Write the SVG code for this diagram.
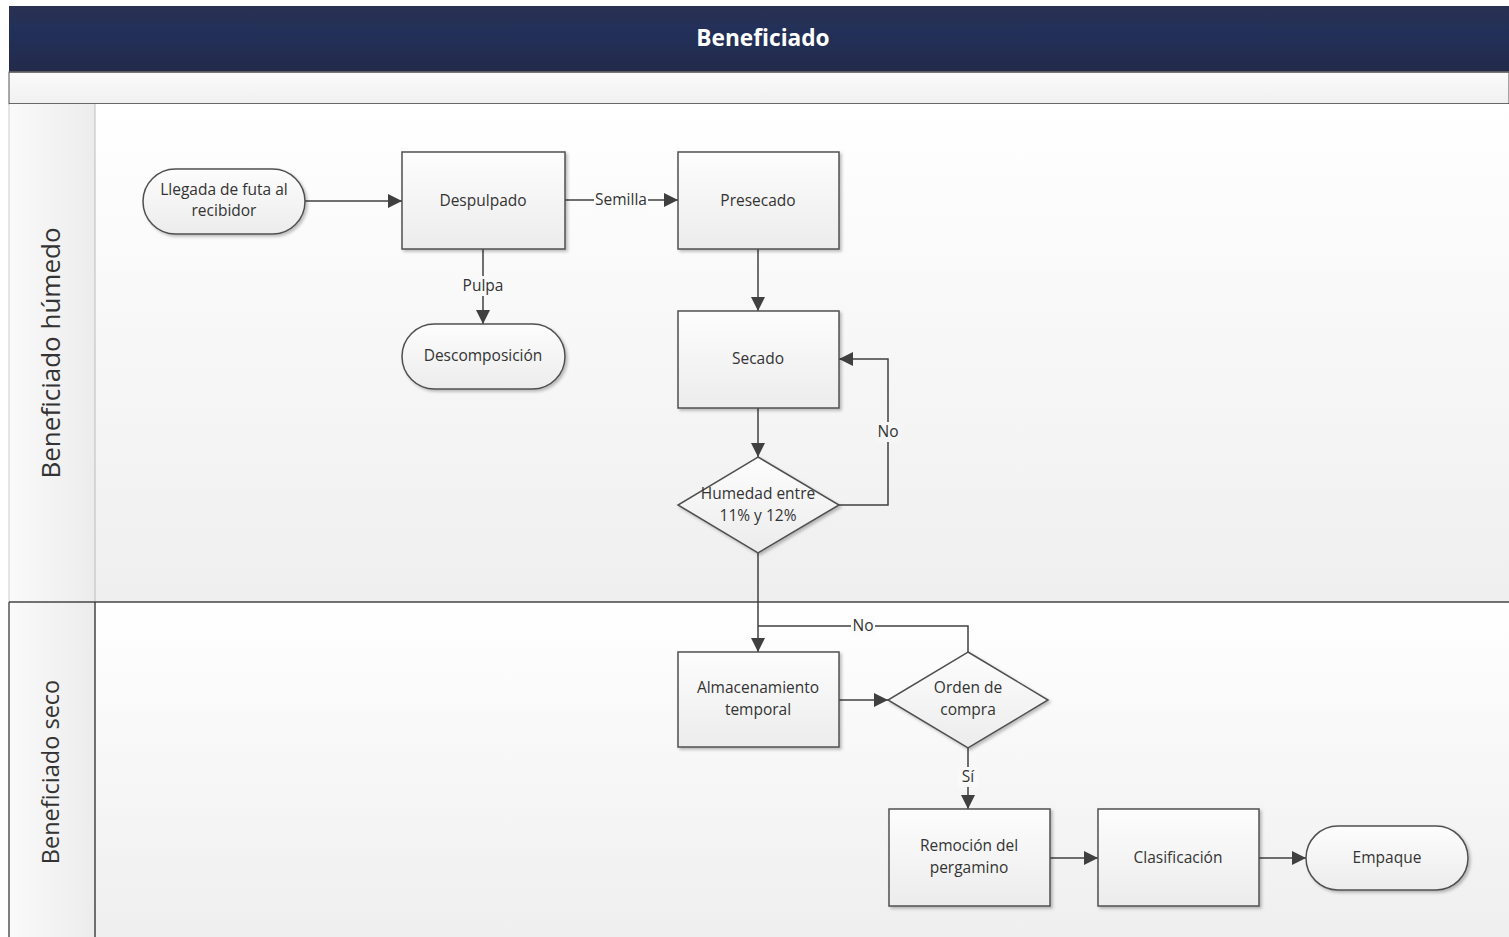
<svg xmlns="http://www.w3.org/2000/svg" width="1509" height="937" viewBox="0 0 1509 937">
<defs>
<linearGradient id="hdr" x1="0" y1="0" x2="0" y2="1"><stop offset="0" stop-color="#2a3152"/><stop offset="0.4" stop-color="#223059"/><stop offset="1" stop-color="#232a4a"/></linearGradient>
<linearGradient id="band" x1="0" y1="0" x2="0" y2="1"><stop offset="0" stop-color="#fbfbfb"/><stop offset="1" stop-color="#f0f0f0"/></linearGradient>
<linearGradient id="lane" x1="0" y1="0" x2="0" y2="1"><stop offset="0" stop-color="#ffffff"/><stop offset="1" stop-color="#efefef"/></linearGradient>
<linearGradient id="lbl" x1="0" y1="0" x2="1" y2="0"><stop offset="0" stop-color="#fafafa"/><stop offset="1" stop-color="#ececec"/></linearGradient>
<linearGradient id="nf" x1="0" y1="0" x2="0" y2="1"><stop offset="0" stop-color="#fdfdfd"/><stop offset="1" stop-color="#ececec"/></linearGradient>
<filter id="sh" x="-10%" y="-10%" width="130%" height="130%"><feDropShadow dx="2" dy="2" stdDeviation="1.5" flood-color="#000" flood-opacity="0.25"/></filter>
<marker id="ar" viewBox="0 0 10 10" refX="10" refY="5" markerWidth="14" markerHeight="14" markerUnits="userSpaceOnUse" orient="auto"><path d="M0,0 L10,5 L0,10 z" fill="#404040"/></marker>
<style>
.node{fill:url(#nf);stroke:#505050;stroke-width:1.5;filter:url(#sh)}
.t{font-family:"Open Sans","Noto Sans",sans-serif;font-size:15.5px;fill:#333;text-anchor:middle}
.c{fill:none;stroke:#404040;stroke-width:1.5}
.cl{font-family:"Open Sans","Noto Sans",sans-serif;font-size:15.5px;fill:#333;text-anchor:middle}
</style>
</defs>
<rect width="1509" height="937" fill="#fff"/>
<g id="pool">
<rect x="9" y="6" width="1500" height="66" fill="url(#hdr)"/>
<text x="763" y="46" font-family="Open Sans, Noto Sans, sans-serif" font-size="22.7" font-weight="bold" fill="#fff" text-anchor="middle">Beneficiado</text>
<rect x="9" y="72" width="1500" height="32" fill="url(#band)" stroke="#555" stroke-width="1"/>
<line x1="9" y1="72" x2="1509" y2="72" stroke="#666" stroke-width="1.5"/>
<line x1="9" y1="104" x2="1509" y2="104" stroke="#555" stroke-width="1.5"/>
</g>
<g id="lane1">
<rect x="95" y="104" width="1414" height="498" fill="url(#lane)"/>
<rect x="9" y="104" width="86" height="498" fill="url(#lbl)"/>
<line x1="95" y1="104" x2="95" y2="602" stroke="#bbb" stroke-width="1"/>
<line x1="9" y1="104" x2="9" y2="602" stroke="#ccc" stroke-width="1"/>
<text transform="translate(60,353) rotate(-90)" font-family="Open Sans, Noto Sans, sans-serif" font-size="26" fill="#333" text-anchor="middle">Beneficiado húmedo</text>
</g>
<g id="lane2">
<rect x="95" y="602" width="1414" height="335" fill="url(#lane)"/>
<rect x="9" y="602" width="86" height="335" fill="url(#lbl)"/>
<line x1="95" y1="602" x2="95" y2="937" stroke="#444" stroke-width="1.5"/>
<line x1="9" y1="602" x2="9" y2="937" stroke="#555" stroke-width="1.5"/>
<line x1="9" y1="602" x2="1509" y2="602" stroke="#444" stroke-width="1.5"/>
<text transform="translate(59,772) rotate(-90)" font-family="Open Sans, Noto Sans, sans-serif" font-size="23.5" fill="#333" text-anchor="middle">Beneficiado seco</text>
</g>
<g id="connectors">
<path class="c" d="M305,201 H402" marker-end="url(#ar)"/>
<path class="c" d="M565,200 H678" marker-end="url(#ar)"/>
<rect x="594" y="190" width="54" height="20" fill="#fbfbfb"/>
<text class="cl" x="621" y="205">Semilla</text>
<path class="c" d="M483,249 V324" marker-end="url(#ar)"/>
<rect x="460" y="276" width="46" height="20" fill="#f9f9f9"/>
<text class="cl" x="483" y="291">Pulpa</text>
<path class="c" d="M758,249 V311" marker-end="url(#ar)"/>
<path class="c" d="M758,408 V457" marker-end="url(#ar)"/>
<path class="c" d="M839,505 H888 V359 H839" marker-end="url(#ar)"/>
<rect x="876" y="422" width="24" height="20" fill="#f6f6f6"/>
<text class="cl" x="888" y="437">No</text>
<path class="c" d="M758,553 V652" marker-end="url(#ar)"/>
<path class="c" d="M968,652 V626 H758"/>
<rect x="851" y="616" width="24" height="20" fill="#fcfcfc"/>
<text class="cl" x="863" y="631">No</text>
<path class="c" d="M839,700 H888" marker-end="url(#ar)"/>
<path class="c" d="M968,748 V809" marker-end="url(#ar)"/>
<rect x="958" y="767" width="20" height="20" fill="#f9f9f9"/>
<text class="cl" x="968" y="782">Sí</text>
<path class="c" d="M1050,858 H1098" marker-end="url(#ar)"/>
<path class="c" d="M1259,858 H1306" marker-end="url(#ar)"/>
</g>
<g id="n-llegada"><rect class="node" x="143" y="169" width="162" height="65" rx="32.5"/><text class="t" x="224" y="195">Llegada de futa al</text><text class="t" x="224" y="216">recibidor</text></g>
<g id="n-despulpado"><rect class="node" x="402" y="152" width="163" height="97"/><text class="t" x="483" y="206">Despulpado</text></g>
<g id="n-presecado"><rect class="node" x="678" y="152" width="161" height="97"/><text class="t" x="758" y="206">Presecado</text></g>
<g id="n-descomposicion"><rect class="node" x="402" y="324" width="163" height="65" rx="32.5"/><text class="t" x="483" y="361">Descomposición</text></g>
<g id="n-secado"><rect class="node" x="678" y="311" width="161" height="97"/><text class="t" x="758" y="364">Secado</text></g>
<g id="n-humedad"><path class="node" d="M758,457 L839,505 L758,553 L678,505 Z"/><text class="t" x="758" y="499">Humedad entre</text><text class="t" x="758" y="521">11% y 12%</text></g>
<g id="n-almacenamiento"><rect class="node" x="678" y="652" width="161" height="95"/><text class="t" x="758" y="693">Almacenamiento</text><text class="t" x="758" y="715">temporal</text></g>
<g id="n-orden"><path class="node" d="M968,652 L1048,700 L968,748 L888,700 Z"/><text class="t" x="968" y="693">Orden de</text><text class="t" x="968" y="715">compra</text></g>
<g id="n-remocion"><rect class="node" x="889" y="809" width="161" height="97"/><text class="t" x="969" y="851">Remoción del</text><text class="t" x="969" y="873">pergamino</text></g>
<g id="n-clasificacion"><rect class="node" x="1098" y="809" width="161" height="97"/><text class="t" x="1178" y="863">Clasificación</text></g>
<g id="n-empaque"><rect class="node" x="1306" y="826" width="162" height="64" rx="32"/><text class="t" x="1387" y="863">Empaque</text></g>
</svg>
